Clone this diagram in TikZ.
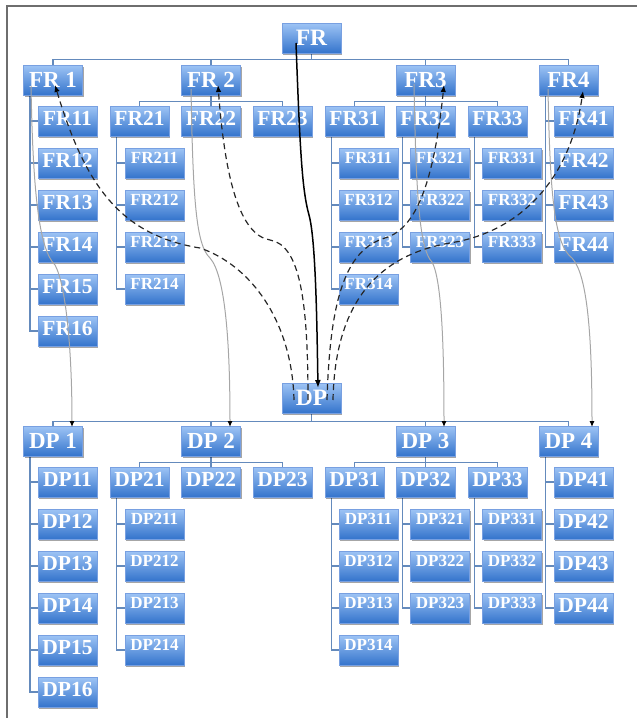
\documentclass[tikz,border=0pt]{standalone}
\usepackage{fontspec}
\setmainfont{Liberation Serif}
\usetikzlibrary{arrows.meta,shadows}
\pgfdeclarelayer{bg}
\pgfsetlayers{bg,main}
\definecolor{boxtop}{RGB}{158,196,245}
\definecolor{boxbot}{RGB}{52,116,204}
\definecolor{boxedge}{RGB}{120,160,225}
\definecolor{orgc}{RGB}{100,138,188}
\definecolor{framec}{RGB}{110,110,110}
\tikzset{
  bx/.style={draw=boxedge, line width=0.4pt, top color=boxtop, bottom color=boxbot,
    minimum width=59pt, minimum height=30pt, inner sep=0pt, text=white,
    drop shadow={shadow xshift=1pt, shadow yshift=-1.6pt, fill=black, opacity=0.35}},
  lv0/.style={bx, font=\bfseries\fontsize{23.5}{23.5}\selectfont},
  lv1/.style={bx, font=\bfseries\fontsize{23}{23}\selectfont},
  lv2/.style={bx, font=\bfseries\fontsize{21.5}{21.5}\selectfont, text depth=5pt},
  lv3/.style={bx, font=\bfseries\fontsize{17}{17}\selectfont, text depth=11pt},
  org/.style={draw=orgc, line width=1.2pt},
  dsh/.style={draw=black!85, line width=1.2pt, dash pattern=on 6pt off 4pt, -{Latex[length=7pt,width=5.5pt,color=black]}},
  sld/.style={draw=black, line width=1.5pt, -{Latex[length=8pt,width=6pt]}},
  thn/.style={draw=gray!70, line width=1pt, -{Latex[length=6pt,width=5pt,color=black]}}
}
\begin{document}
\begin{tikzpicture}[x=1pt,y=-1pt]
\useasboundingbox (0,0) rectangle (637,718);
\draw[framec, line width=1.8pt] (7,718) -- (7,6) -- (637,6);

% ---------- boxes ----------
\node[lv0] (FR) at (311.5,38) {FR};
\node[lv0] (DP) at (311.5,398) {DP};
\node[lv1] (FR1) at (53,80) {FR 1};
\node[lv1] (FR2) at (211,80) {FR 2};
\node[lv1] (FR3) at (425.5,80) {FR3};
\node[lv1] (FR4) at (568.5,80) {FR4};
\node[lv1] (DP1) at (53,441) {DP 1};
\node[lv1] (DP2) at (211,441) {DP 2};
\node[lv1] (DP3) at (425.5,441) {DP 3};
\node[lv1] (DP4) at (568.5,441) {DP 4};

\foreach \p/\o in {FR/0,DP/361}{
  \foreach \n/\x in {11/67.5,21/139.5,22/211,23/282.5,31/354.5,32/425.5,33/497.5,41/583.5}
    \node[lv2] (\p\n) at (\x,{121+\o}) {\p\n};
  \foreach \k in {2,...,6}
    \node[lv2] (\p1\k) at (67.5,{121+42*(\k-1)+\o}) {\p1\k};
  \foreach \k in {2,3,4}
    \node[lv2] (\p4\k) at (583.5,{121+42*(\k-1)+\o}) {\p4\k};
  \foreach \k in {1,...,4}{
    \node[lv3] (\p21\k) at (154.5,{121+42*\k+\o}) {\p21\k};
    \node[lv3] (\p31\k) at (368.5,{121+42*\k+\o}) {\p31\k};
  }
  \foreach \k in {1,2,3}{
    \node[lv3] (\p32\k) at (440,{121+42*\k+\o}) {\p32\k};
    \node[lv3] (\p33\k) at (512,{121+42*\k+\o}) {\p33\k};
  }
}

% ---------- org connectors ----------
\begin{pgfonlayer}{bg}
\foreach \p/\d in {FR/6,DP/8}{
  \foreach \i in {1,...,4}
    \draw[org] (\p.south) -- ++(0,\d) -| (\p\i.north);
  \foreach \i in {1,2,3}{
    \draw[org] (\p2.south) -- ++(0,6) -| (\p2\i.north);
    \draw[org] (\p3.south) -- ++(0,6) -| (\p3\i.north);
  }
  \foreach \k in {1,...,6}
    \draw[org] ([xshift=-23pt]\p1.south) |- (\p1\k.west);
  \foreach \k in {1,...,4}{
    \draw[org] ([xshift=-23pt]\p4.south) |- (\p4\k.west);
    \draw[org] ([xshift=-23pt]\p21.south) |- (\p21\k.west);
    \draw[org] ([xshift=-23pt]\p31.south) |- (\p31\k.west);
  }
  \foreach \k in {1,2,3}{
    \draw[org] ([xshift=-23pt]\p32.south) |- (\p32\k.west);
    \draw[org] ([xshift=-23pt]\p33.south) |- (\p33\k.west);
  }
}
\end{pgfonlayer}

% ---------- mapping curves ----------
\draw[thn] ([shift={(-22,6)}]FR1.center) .. controls (33,200) and (40,250) .. (55,265)
   .. controls (66,285) and (72,350) .. ([shift={(19,-14)}]DP1.center);
\draw[thn] ([shift={(-20,9)}]FR2.center) .. controls (193,200) and (196,245) .. (210,258)
   .. controls (225,275) and (230,340) .. ([shift={(19,-14)}]DP2.center);
\draw[thn] ([shift={(-11.5,4)}]FR3.center) .. controls (416,200) and (420,250) .. (432,262)
   .. controls (442,280) and (444,350) .. ([shift={(18.5,-14)}]DP3.center);
\draw[thn] ([shift={(-20.5,9)}]FR4.center) .. controls (550,200) and (555,245) .. (572,258)
   .. controls (588,275) and (592,340) .. ([shift={(23.5,-14)}]DP4.center);

\draw[dsh] ([shift={(-17.5,2)}]DP.center) .. controls (292,320) and (250,265) .. (200,248)
   .. controls (120,235) and (85,185) .. ([shift={(2,5)}]FR1.center);
\draw[dsh] ([shift={(-3.5,2)}]DP.center) .. controls (308,300) and (300,245) .. (270,240)
   .. controls (240,235) and (225,180) .. ([shift={(7,5)}]FR2.center);
\draw[dsh] ([shift={(15.5,2)}]DP.center) .. controls (330,300) and (345,250) .. (385,238)
   .. controls (420,228) and (435,170) .. ([shift={(18.5,5)}]FR3.center);
\draw[dsh] ([shift={(21.5,2)}]DP.center) .. controls (335,300) and (380,255) .. (450,243)
   .. controls (520,232) and (570,180) .. ([shift={(14.5,11)}]FR4.center);

\draw[sld] ([shift={(-15.5,5)}]FR.center) .. controls (300,150) and (302,190) .. (309,215)
   .. controls (316,240) and (317,330) .. ([shift={(6.5,-10)}]DP.center);
\end{tikzpicture}
\end{document}
